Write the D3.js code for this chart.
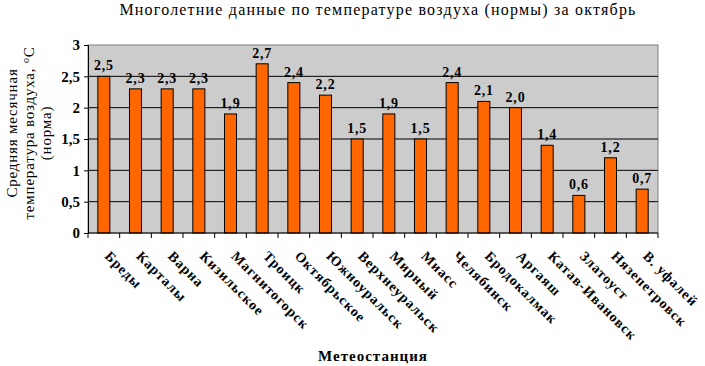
<!DOCTYPE html>
<html>
<head>
<meta charset="utf-8">
<script src="https://cdn.jsdelivr.net/npm/d3@7"></script>
<style>
	body { margin: 0; background: #fff; }
</style>
</head>
<body>
<svg id="chart" width="705" height="366"></svg>
<script>
// data
const stations = ['Бреды', 'Карталы', 'Варна', 'Кизильское', 'Магнитогорск', 'Троицк',
	'Октябрьское', 'Южноуральск', 'Верхнеуральск', 'Мирный', 'Миасс', 'Челябинск',
	'Бродокалмак', 'Аргаяш', 'Катав-Ивановск', 'Златоуст', 'Нязепетровск', 'В. уфалей'];
const temps = [2.5, 2.3, 2.3, 2.3, 1.9, 2.7, 2.4, 2.2, 1.5, 1.9, 1.5, 2.4, 2.1, 2.0, 1.4, 0.6, 1.2, 0.7];
const yTicks = [0, 0.5, 1, 1.5, 2, 2.5, 3];

const SERIF = 'Liberation Serif';

const data = stations.map((name, i) => ({ name, value: temps[i] }));

// dimension stuff
const margin = { top: 45, left: 88, right: 47, bottom: 133 };
const width = 705 - margin.left - margin.right;
const height = 366 - margin.top - margin.bottom;

const fmt = v => d3.format('.1f')(v).replace('.', ',');
const fmtTick = v => String(v).replace('.', ',');

// scales
const scaleX = d3.scaleBand().domain(stations).range([0, width]).paddingInner(0.62).paddingOuter(0.31);
const scaleY = d3.scaleLinear().domain([0, 3]).range([height, 0]);

const $svg = d3.select('#chart');

// helper so every text gets the same font
const txt = ($parent, size, bold, spacing) => $parent.append('text')
	.attr('font-family', SERIF)
	.attr('font-size', size)
	.attr('font-weight', bold ? 'bold' : 'normal')
	.attr('letter-spacing', spacing || 0)
	.attr('fill', '#000');

txt($svg, 16, false, 1.2)
	.attr('x', 378).attr('y', 15)
	.attr('text-anchor', 'middle')
	.text('Многолетние данные по температуре воздуха (нормы) за октябрь');

const $g = $svg.append('g').attr('transform', `translate(${margin.left},${margin.top})`);

// plot background
$g.append('rect')
	.attr('width', width).attr('height', height)
	.attr('fill', '#cccccc').attr('stroke', '#808080');

// gridlines
$g.append('g').selectAll('line')
	.data(yTicks.filter(d => d > 0 && d < 3))
	.join('line')
	.attr('x1', 0).attr('x2', width)
	.attr('y1', d => scaleY(d)).attr('y2', d => scaleY(d))
	.attr('stroke', '#000');

// bars
$g.append('g').selectAll('rect')
	.data(data)
	.join('rect')
	.attr('x', d => scaleX(d.name))
	.attr('y', d => scaleY(d.value))
	.attr('width', scaleX.bandwidth())
	.attr('height', d => height - scaleY(d.value))
	.attr('fill', '#ff6600')
	.attr('stroke', '#000');

// value labels
const $labels = $g.append('g');
data.forEach(d => {
	txt($labels, 14, true, 0.8)
		.attr('x', scaleX(d.name) + scaleX.bandwidth() / 2)
		.attr('y', scaleY(d.value) - 6)
		.attr('text-anchor', 'middle')
		.text(fmt(d.value));
});

// y axis
const $axisY = $g.append('g')
	.call(d3.axisLeft(scaleY).tickValues(yTicks).tickSize(4).tickPadding(4).tickFormat(fmtTick));
$axisY.attr('font-family', SERIF).attr('font-size', 15).attr('font-weight', 'bold');
$axisY.select('.domain').attr('stroke', '#000');
$axisY.selectAll('text').attr('fill', '#000');

// x axis: ticks between categories
const step = scaleX.step();
const $axisX = $g.append('g').attr('transform', `translate(0,${height})`);
$axisX.append('line').attr('x1', 0).attr('x2', width).attr('stroke', '#000');
$axisX.selectAll('line.tick')
	.data(d3.range(stations.length + 1))
	.join('line')
	.attr('class', 'tick')
	.attr('x1', i => i * step).attr('x2', i => i * step)
	.attr('y1', 0).attr('y2', 5)
	.attr('stroke', '#000');

data.forEach(d => {
	txt($axisX, 14, true, 1)
		.attr('transform', `translate(${scaleX(d.name) + scaleX.bandwidth() / 2 + 7},17) rotate(45)`)
		.attr('text-anchor', 'start')
		.attr('dy', '0.7em')
		.text(d.name);
});

// axis titles
txt($svg, 15, true, 1)
	.attr('x', 373).attr('y', 361)
	.attr('text-anchor', 'middle')
	.text('Метеостанция');

const $yt = txt($svg, 15, false, 0.8)
	.attr('transform', 'translate(0,133) rotate(-90)')
	.attr('text-anchor', 'middle');
$yt.append('tspan').attr('x', 0).attr('y', 17).text('Средняя месячная');
const $l2 = $yt.append('tspan').attr('x', 0).attr('y', 34);
$l2.append('tspan').text('температура воздуха, ');
$l2.append('tspan').attr('dy', -5).attr('font-size', 10).text('o');
$l2.append('tspan').attr('dy', 5).text('С');
$yt.append('tspan').attr('x', 0).attr('y', 51).text('(норма)');
</script>
</body>
</html>
